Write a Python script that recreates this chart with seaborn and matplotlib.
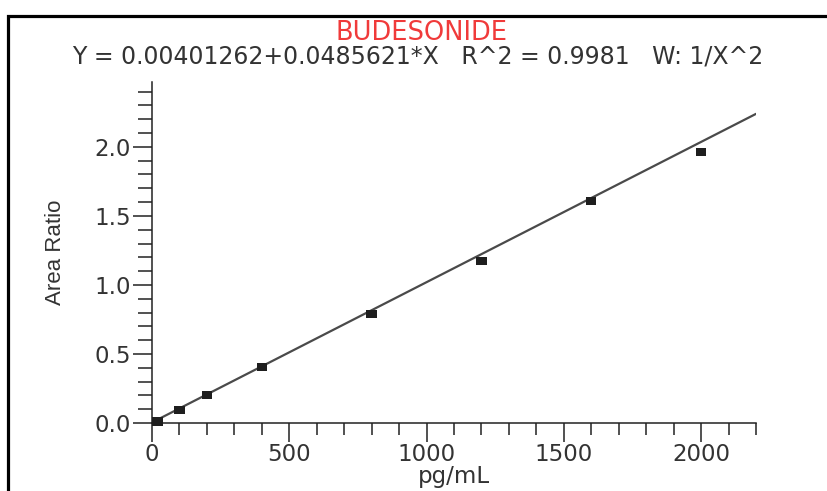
import numpy as np
import pandas as pd
import seaborn as sns
import matplotlib
matplotlib.use("Agg")
import matplotlib.pyplot as plt
from matplotlib.ticker import MultipleLocator, FormatStrFormatter
from matplotlib.patches import Rectangle

# Calibration standards (pg/mL) and measured area ratios
conc = [20, 100, 200, 400, 800, 1200, 1600, 2000]
area_ratio = [0.01, 0.094, 0.203, 0.406, 0.79, 1.174, 1.609, 1.964]

# Regression line drawn across the plotted range
fit_intercept = 0.00401262
fit_slope = 0.001016
fit_range = [0, 2200]

title = "BUDESONIDE"
equation = "Y = 0.00401262+0.0485621*X   R^2 = 0.9981   W: 1/X^2"

sns.set_theme(style="white")
plt.rcParams["font.family"] = ["DejaVu Sans"]

fig = plt.figure(figsize=(8.28, 4.91), dpi=100)
ax = fig.add_axes([152 / 828, 1 - 423 / 491, (756 - 152) / 828, (423 - 82) / 491])

fit_df = pd.DataFrame({"x": fit_range,
                       "y": [fit_intercept + fit_slope * v for v in fit_range]})
sns.lineplot(data=fit_df, x="x", y="y", ax=ax, color="#4a4a4a", lw=1.6, zorder=2)

pts = pd.DataFrame({"conc": conc, "ratio": area_ratio})
rect = [(-1, -0.8), (1, -0.8), (1, 0.8), (-1, 0.8), (-1, -0.8)]
sns.scatterplot(data=pts, x="conc", y="ratio", ax=ax, marker=rect, s=55,
                color="#1e1e1e", edgecolor="none", zorder=3, clip_on=False)

ax.set_xlim(0, 2200)
ax.set_ylim(0, 2.47)
ax.xaxis.set_major_locator(MultipleLocator(500))
ax.xaxis.set_minor_locator(MultipleLocator(100))
ax.yaxis.set_major_locator(MultipleLocator(0.5))
ax.yaxis.set_minor_locator(MultipleLocator(0.1))
ax.yaxis.set_major_formatter(FormatStrFormatter("%.1f"))

for side in ("top", "right"):
    ax.spines[side].set_visible(False)
for side in ("left", "bottom"):
    ax.spines[side].set_color("#222222")
    ax.spines[side].set_linewidth(1.1)

ax.tick_params(axis="both", which="both", direction="out", color="#222222",
               width=1.1, labelcolor="#333333", labelsize=16.5, pad=1)
ax.tick_params(axis="x", which="major", length=13.5, bottom=True)
ax.tick_params(axis="x", which="minor", length=8.5, bottom=True)
ax.tick_params(axis="y", which="major", length=14, left=True)
ax.tick_params(axis="y", which="minor", length=10, left=True)

ax.set_xlabel("pg/mL", fontsize=16.5, color="#333333", va="bottom")
ax.xaxis.set_label_coords(0.5, -0.192)
ax.set_ylabel("Area Ratio", fontsize=16, color="#333333",
              family=["Liberation Sans", "DejaVu Sans"])
ax.yaxis.set_label_coords(-0.143, 0.5)

fig.text(422 / 828, 1 - 33 / 491, title, ha="center", va="center",
         color="#f03a3a", fontsize=18.5)
fig.text(418 / 828, 1 - 57 / 491, equation, ha="center", va="center",
         color="#333333", fontsize=17)

# Outer frame, open toward the right and bottom edges
fig.add_artist(Rectangle((8 / 828, -0.5), 2, 0.5 + 1 - 16 / 491,
                         transform=fig.transFigure, fill=False,
                         lw=2.3, ec="black"))

fig.savefig("out.png", dpi=100)
